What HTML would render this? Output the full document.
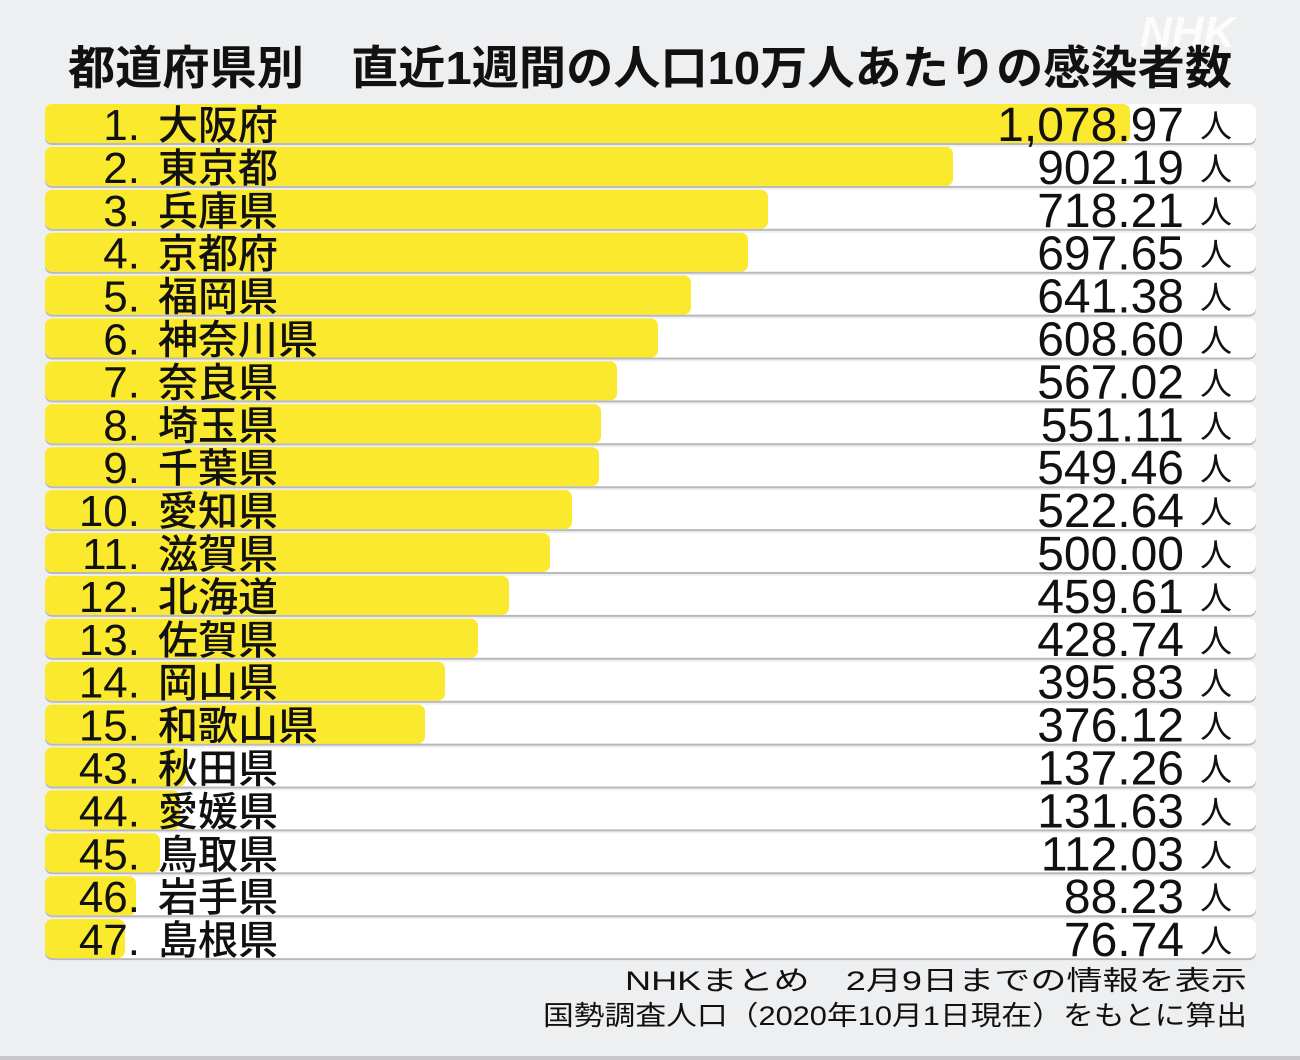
<!DOCTYPE html>
<html><head><meta charset="utf-8"><style>
html,body{margin:0;padding:0}
body{width:1300px;height:1060px;background:#eeeff1;overflow:hidden}
svg{display:block}
.rk{font-family:"Liberation Sans",sans-serif;font-size:44px;fill:#111}
.nm{font-family:"Noto Sans CJK JP",sans-serif;font-size:40px;font-weight:500;fill:#111}
.vl{font-family:"Liberation Sans",sans-serif;font-size:48px;fill:#111}
.pp{font-family:"Noto Sans CJK JP",sans-serif;font-size:32px;fill:#111}
</style></head><body>
<svg width="1300" height="1060" xmlns="http://www.w3.org/2000/svg">
<defs>
<g id="bg"><rect x="0" y="2" width="1211" height="39" rx="7" fill="#b9b9bb"/><rect x="0" y="0" width="1211" height="39" rx="7" fill="#fff"/></g>
</defs>
<text x="1140" y="47" font-family="Liberation Sans,sans-serif" font-size="44" font-weight="bold" font-style="italic" fill="#fff" opacity="0.85">NHK</text>
<text x="68" y="84" textLength="1164" lengthAdjust="spacingAndGlyphs" font-family="Liberation Sans,Noto Sans CJK JP,sans-serif" font-size="46" font-weight="bold" fill="#111">都道府県別　直近1週間の人口10万人あたりの感染者数</text>

<g transform="translate(45,104)"><use href="#bg"/><rect width="1085" height="39" rx="7" fill="#fbe92e"/><text class="rk" x="95" y="36" text-anchor="end">1.</text><text class="nm" x="113" y="35">大阪府</text><text class="vl" x="1139" y="37" text-anchor="end">1,078.97</text><text class="pp" x="1155" y="33">人</text></g>
<g transform="translate(45,146.9)"><use href="#bg"/><rect width="908" height="39" rx="7" fill="#fbe92e"/><text class="rk" x="95" y="36" text-anchor="end">2.</text><text class="nm" x="113" y="35">東京都</text><text class="vl" x="1139" y="37" text-anchor="end">902.19</text><text class="pp" x="1155" y="33">人</text></g>
<g transform="translate(45,189.8)"><use href="#bg"/><rect width="723" height="39" rx="7" fill="#fbe92e"/><text class="rk" x="95" y="36" text-anchor="end">3.</text><text class="nm" x="113" y="35">兵庫県</text><text class="vl" x="1139" y="37" text-anchor="end">718.21</text><text class="pp" x="1155" y="33">人</text></g>
<g transform="translate(45,232.7)"><use href="#bg"/><rect width="703" height="39" rx="7" fill="#fbe92e"/><text class="rk" x="95" y="36" text-anchor="end">4.</text><text class="nm" x="113" y="35">京都府</text><text class="vl" x="1139" y="37" text-anchor="end">697.65</text><text class="pp" x="1155" y="33">人</text></g>
<g transform="translate(45,275.6)"><use href="#bg"/><rect width="646" height="39" rx="7" fill="#fbe92e"/><text class="rk" x="95" y="36" text-anchor="end">5.</text><text class="nm" x="113" y="35">福岡県</text><text class="vl" x="1139" y="37" text-anchor="end">641.38</text><text class="pp" x="1155" y="33">人</text></g>
<g transform="translate(45,318.5)"><use href="#bg"/><rect width="613" height="39" rx="7" fill="#fbe92e"/><text class="rk" x="95" y="36" text-anchor="end">6.</text><text class="nm" x="113" y="35">神奈川県</text><text class="vl" x="1139" y="37" text-anchor="end">608.60</text><text class="pp" x="1155" y="33">人</text></g>
<g transform="translate(45,361.4)"><use href="#bg"/><rect width="572" height="39" rx="7" fill="#fbe92e"/><text class="rk" x="95" y="36" text-anchor="end">7.</text><text class="nm" x="113" y="35">奈良県</text><text class="vl" x="1139" y="37" text-anchor="end">567.02</text><text class="pp" x="1155" y="33">人</text></g>
<g transform="translate(45,404.3)"><use href="#bg"/><rect width="556" height="39" rx="7" fill="#fbe92e"/><text class="rk" x="95" y="36" text-anchor="end">8.</text><text class="nm" x="113" y="35">埼玉県</text><text class="vl" x="1139" y="37" text-anchor="end">551.11</text><text class="pp" x="1155" y="33">人</text></g>
<g transform="translate(45,447.2)"><use href="#bg"/><rect width="554" height="39" rx="7" fill="#fbe92e"/><text class="rk" x="95" y="36" text-anchor="end">9.</text><text class="nm" x="113" y="35">千葉県</text><text class="vl" x="1139" y="37" text-anchor="end">549.46</text><text class="pp" x="1155" y="33">人</text></g>
<g transform="translate(45,490.1)"><use href="#bg"/><rect width="527" height="39" rx="7" fill="#fbe92e"/><text class="rk" x="95" y="36" text-anchor="end">10.</text><text class="nm" x="113" y="35">愛知県</text><text class="vl" x="1139" y="37" text-anchor="end">522.64</text><text class="pp" x="1155" y="33">人</text></g>
<g transform="translate(45,533)"><use href="#bg"/><rect width="505" height="39" rx="7" fill="#fbe92e"/><text class="rk" x="95" y="36" text-anchor="end">11.</text><text class="nm" x="113" y="35">滋賀県</text><text class="vl" x="1139" y="37" text-anchor="end">500.00</text><text class="pp" x="1155" y="33">人</text></g>
<g transform="translate(45,575.9)"><use href="#bg"/><rect width="464" height="39" rx="7" fill="#fbe92e"/><text class="rk" x="95" y="36" text-anchor="end">12.</text><text class="nm" x="113" y="35">北海道</text><text class="vl" x="1139" y="37" text-anchor="end">459.61</text><text class="pp" x="1155" y="33">人</text></g>
<g transform="translate(45,618.8)"><use href="#bg"/><rect width="433" height="39" rx="7" fill="#fbe92e"/><text class="rk" x="95" y="36" text-anchor="end">13.</text><text class="nm" x="113" y="35">佐賀県</text><text class="vl" x="1139" y="37" text-anchor="end">428.74</text><text class="pp" x="1155" y="33">人</text></g>
<g transform="translate(45,661.7)"><use href="#bg"/><rect width="400" height="39" rx="7" fill="#fbe92e"/><text class="rk" x="95" y="36" text-anchor="end">14.</text><text class="nm" x="113" y="35">岡山県</text><text class="vl" x="1139" y="37" text-anchor="end">395.83</text><text class="pp" x="1155" y="33">人</text></g>
<g transform="translate(45,704.6)"><use href="#bg"/><rect width="380" height="39" rx="7" fill="#fbe92e"/><text class="rk" x="95" y="36" text-anchor="end">15.</text><text class="nm" x="113" y="35">和歌山県</text><text class="vl" x="1139" y="37" text-anchor="end">376.12</text><text class="pp" x="1155" y="33">人</text></g>
<g transform="translate(45,747.5)"><use href="#bg"/><rect width="141" height="39" rx="7" fill="#fbe92e"/><text class="rk" x="95" y="36" text-anchor="end">43.</text><text class="nm" x="113" y="35">秋田県</text><text class="vl" x="1139" y="37" text-anchor="end">137.26</text><text class="pp" x="1155" y="33">人</text></g>
<g transform="translate(45,790.4)"><use href="#bg"/><rect width="135" height="39" rx="7" fill="#fbe92e"/><text class="rk" x="95" y="36" text-anchor="end">44.</text><text class="nm" x="113" y="35">愛媛県</text><text class="vl" x="1139" y="37" text-anchor="end">131.63</text><text class="pp" x="1155" y="33">人</text></g>
<g transform="translate(45,833.3)"><use href="#bg"/><rect width="115" height="39" rx="7" fill="#fbe92e"/><text class="rk" x="95" y="36" text-anchor="end">45.</text><text class="nm" x="113" y="35">鳥取県</text><text class="vl" x="1139" y="37" text-anchor="end">112.03</text><text class="pp" x="1155" y="33">人</text></g>
<g transform="translate(45,876.2)"><use href="#bg"/><rect width="91" height="39" rx="7" fill="#fbe92e"/><text class="rk" x="95" y="36" text-anchor="end">46.</text><text class="nm" x="113" y="35">岩手県</text><text class="vl" x="1139" y="37" text-anchor="end">88.23</text><text class="pp" x="1155" y="33">人</text></g>
<g transform="translate(45,919.1)"><use href="#bg"/><rect width="80" height="39" rx="7" fill="#fbe92e"/><text class="rk" x="95" y="36" text-anchor="end">47.</text><text class="nm" x="113" y="35">島根県</text><text class="vl" x="1139" y="37" text-anchor="end">76.74</text><text class="pp" x="1155" y="33">人</text></g>

<text x="625" y="990" textLength="622" lengthAdjust="spacingAndGlyphs" font-family="Liberation Sans,Noto Sans CJK JP,sans-serif" font-size="27" fill="#111">NHKまとめ　2月9日までの情報を表示</text>
<text x="543" y="1025" textLength="704" lengthAdjust="spacingAndGlyphs" font-family="Liberation Sans,Noto Sans CJK JP,sans-serif" font-size="27" fill="#111">国勢調査人口（2020年10月1日現在）をもとに算出</text>
<rect x="0" y="1056" width="1300" height="4" fill="#c8c8ca"/>
</svg>
</body></html>
